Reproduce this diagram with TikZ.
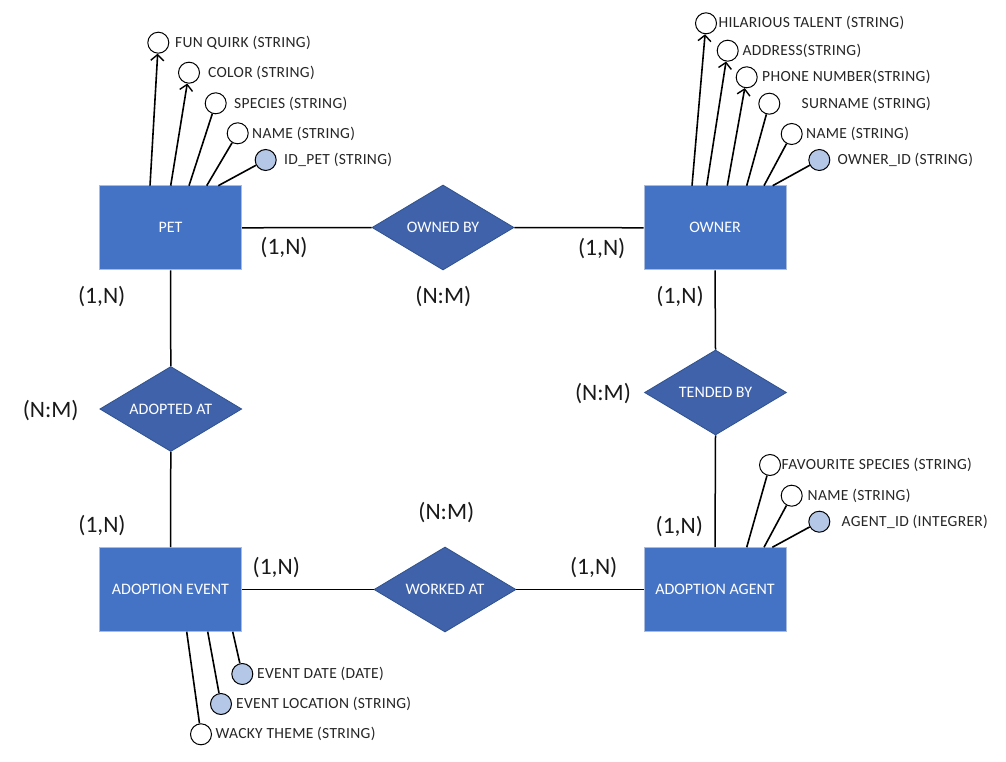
\documentclass[tikz,border=0pt]{standalone}
\usepackage{fontspec}
\setmainfont{Carlito}
\usetikzlibrary{shapes.geometric,arrows.meta}
\definecolor{entblue}{HTML}{4472C4}
\definecolor{entborder}{HTML}{A9BCDD}
\definecolor{relblue}{HTML}{3F62AA}
\definecolor{relborder}{HTML}{2F528F}
\definecolor{keyblue}{HTML}{B4C7E7}
\tikzset{
  entity/.style={rectangle, fill=entblue, draw=entborder, line width=1pt,
    minimum width=142pt, minimum height=84pt, inner sep=0pt, text=white,
    font=\fontsize{16}{19}\selectfont},
  rel/.style={diamond, fill=relblue, draw=relborder, line width=0.8pt,
    minimum width=142pt, minimum height=85pt, aspect=1.67, inner sep=0pt,
    text=white, font=\fontsize{16}{19}\selectfont},
  attr/.style={circle, draw=black, line width=1pt, fill=white,
    minimum size=21pt, inner sep=0pt},
  keyattr/.style={attr, fill=keyblue},
  alabel/.style={anchor=west, inner sep=0pt, text=black!85,
    font=\fontsize{15.5}{18}\selectfont\addfontfeature{LetterSpace=2}},
  card/.style={inner sep=0pt, text=black!90, font=\fontsize{23.5}{27}\selectfont},
  conn/.style={line width=1.5pt, draw=black},
  aconn/.style={line width=1.6pt, draw=black},
  tip/.style={-{Straight Barb[length=6pt,width=13pt,line width=1.4pt]}}
}
\begin{document}
\begin{tikzpicture}[x=1pt,y=-1pt]
\path[use as bounding box, fill=white] (0,0) rectangle (1006,762);

% entities
\node[entity] (pet) at (170.5,227.8) {PET};
\node[entity] (own) at (715,227.8) {OWNER};
\node[entity] (ae) at (170.5,589.5) {ADOPTION EVENT};
\node[entity] (aa) at (715,589.5) {ADOPTION AGENT};

% relationships
\node[rel] (ob) at (443,227.5) {OWNED BY};
\node[rel] (ad) at (170.8,409) {ADOPTED AT};
\node[rel] (tb) at (715.5,392.5) {TENDED BY};
\node[rel] (wa) at (445,589.5) {WORKED AT};

% connectors
\draw[conn] (pet.east) -- (ob.west);
\draw[conn] (ob.east) -- (own.west);
\draw[conn] (pet.south) -- (ad.north);
\draw[conn] (ad.south) -- (ae.north);
\draw[conn] (own.south) -- (tb.north);
\draw[conn] (tb.south) -- (aa.north);
\draw[conn] (ae.east) -- (wa.west);
\draw[conn] (wa.east) -- (aa.west);

% cardinalities
\node[card] (c1) at (284,248) {(1,N)};
\node[card] (c2) at (601.7,248.5) {(1,N)};
\node[card] (c3) at (443.3,297) {(N:M)};
\node[card] (c4) at (101.7,297) {(1,N)};
\node[card] (c5) at (680,297) {(1,N)};
\node[card] (c6) at (50.7,410.5) {(N:M)};
\node[card] (c7) at (603,393.5) {(N:M)};
\node[card] (c8) at (102,526) {(1,N)};
\node[card] (c9) at (446.3,513) {(N:M)};
\node[card] (c10) at (679.3,527) {(1,N)};
\node[card] (c11) at (276.3,567.5) {(1,N)};
\node[card] (c12) at (593.7,568) {(1,N)};

% PET attributes
\node[attr] (pfq) at (158.3,42.7) {};
\node[attr] (pco) at (189,72.7) {};
\node[attr] (psp) at (215.7,103.3) {};
\node[attr] (pnm) at (237.7,133.3) {};
\node[keyattr] (pid) at (265.7,160) {};
\coordinate (pa1) at (150,185.7);
\coordinate (pa2) at (170.7,185.7);
\coordinate (pa3) at (189,185.7);
\coordinate (pa4) at (206.7,185.7);
\coordinate (pa5) at (218.3,185.7);
\draw[aconn,tip] (pa1) -- (pfq);
\draw[aconn,tip] (pa2) -- (pco);
\draw[aconn] (pa3) -- (psp);
\draw[aconn] (pa4) -- (pnm);
\draw[aconn] (pa5) -- (pid);
\node[alabel] (lpfq) at (175,43) {FUN QUIRK (STRING)};
\node[alabel] (lpco) at (208,73) {COLOR (STRING)};
\node[alabel] (lpsp) at (234,103.5) {SPECIES (STRING)};
\node[alabel] (lpnm) at (252,133.5) {NAME (STRING)};
\node[alabel] (lpid) at (284,160) {ID\_PET (STRING)};

% OWNER attributes
\node[attr] (oht) at (706,23.3) {};
\node[attr] (oad) at (727.7,50.7) {};
\node[attr] (oph) at (746.7,77.3) {};
\node[attr] (osn) at (769.3,103.7) {};
\node[attr] (onm) at (791.7,134) {};
\node[keyattr] (oid) at (819.3,160) {};
\coordinate (oa1) at (692,185.7);
\coordinate (oa2) at (706.7,185.7);
\coordinate (oa3) at (727.3,185.7);
\coordinate (oa4) at (746.7,185.7);
\coordinate (oa5) at (764,185.7);
\coordinate (oa6) at (772.7,185.7);
\draw[aconn,tip] (oa1) -- (oht);
\draw[aconn,tip] (oa2) -- (oad);
\draw[aconn,tip] (oa3) -- (oph);
\draw[aconn] (oa4) -- (osn);
\draw[aconn] (oa5) -- (onm);
\draw[aconn] (oa6) -- (oid);
\node[alabel] (loht) at (718.5,23) {HILARIOUS TALENT (STRING)};
\node[alabel] (load) at (742.5,50.5) {ADDRESS(STRING)};
\node[alabel] (loph) at (762,77) {PHONE NUMBER(STRING)};
\node[alabel] (losn) at (801.5,103.5) {SURNAME (STRING)};
\node[alabel] (lonm) at (806,133.5) {NAME (STRING)};
\node[alabel] (loid) at (837.5,160) {OWNER\_ID (STRING)};

% ADOPTION EVENT attributes
\node[keyattr] (eed) at (242.3,674) {};
\node[keyattr] (eel) at (221,704) {};
\node[attr] (ewt) at (201,734.3) {};
\coordinate (ea1) at (232.7,631.7);
\coordinate (ea2) at (207.7,631.7);
\coordinate (ea3) at (186.7,631.7);
\draw[aconn] (ea1) -- (eed);
\draw[aconn] (ea2) -- (eel);
\draw[aconn] (ea3) -- (ewt);
\node[alabel] (leed) at (257,674) {EVENT DATE (DATE)};
\node[alabel] (leel) at (236,704) {EVENT LOCATION (STRING)};
\node[alabel] (lewt) at (215.5,734) {WACKY THEME (STRING)};

% ADOPTION AGENT attributes
\node[attr] (gfs) at (770,465) {};
\node[attr] (gnm) at (791.7,495.7) {};
\node[keyattr] (gid) at (819.3,521.7) {};
\coordinate (ga1) at (746.7,547.3);
\coordinate (ga2) at (764,547.3);
\coordinate (ga3) at (772.3,547.3);
\draw[aconn] (ga1) -- (gfs);
\draw[aconn] (ga2) -- (gnm);
\draw[aconn] (ga3) -- (gid);
\node[alabel] (lgfs) at (781.5,465) {FAVOURITE SPECIES (STRING)};
\node[alabel] (lgnm) at (807.5,495.5) {NAME (STRING)};
\node[alabel] (lgid) at (841.5,521.5) {AGENT\_ID (INTEGRER)};
\end{tikzpicture}
\end{document}
